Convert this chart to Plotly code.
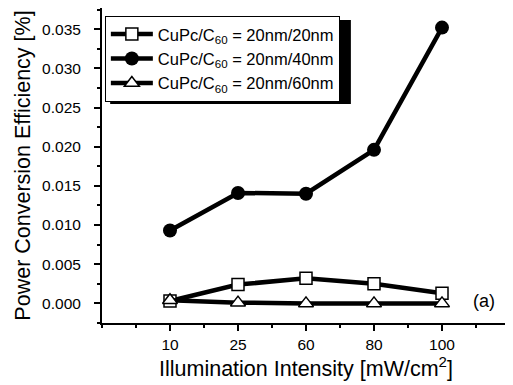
import plotly.graph_objects as go

x_pos = [1, 2, 3, 4, 5]
x_labels = ["10", "25", "60", "80", "100"]
s20 = [0.0003, 0.0024, 0.0032, 0.0025, 0.0013]
s40 = [0.0093, 0.0141, 0.0140, 0.0196, 0.0352]
s60 = [0.0004, 0.0001, 0.0000, 0.0000, 0.0000]
names = ["CuPc/C<sub>60</sub> = 20nm/20nm",
         "CuPc/C<sub>60</sub> = 20nm/40nm",
         "CuPc/C<sub>60</sub> = 20nm/60nm"]

FONT = "Arial, Liberation Sans, Helvetica, sans-serif"
fig = go.Figure()
fig.add_trace(go.Scatter(x=x_pos, y=s40, name=names[1], mode="lines+markers",
                         legendrank=2, legendgroup="b",
                         line=dict(color="black", width=4.5),
                         marker=dict(symbol="circle", size=14, color="black")))
fig.add_trace(go.Scatter(x=x_pos, y=s20, name=names[0], mode="lines+markers",
                         legendrank=1, legendgroup="a",
                         line=dict(color="black", width=4.5),
                         marker=dict(symbol="square", size=12, color="white",
                                     line=dict(color="black", width=1.5))))
fig.add_trace(go.Scatter(x=x_pos, y=s60, name=names[2], mode="lines+markers",
                         legendrank=3, legendgroup="c",
                         line=dict(color="black", width=4.5),
                         marker=dict(symbol="triangle-up", size=13, color="white",
                                     line=dict(color="black", width=1.5))))

# page has an 8px body margin: figure is 505x377 placed at (8,8)
fig.update_layout(
    width=505, height=377,
    margin=dict(l=94, r=3, t=0, b=62),
    paper_bgcolor="white", plot_bgcolor="white",
    font=dict(family=FONT, color="black", size=15.5),
    legend=dict(x=0.007, y=0.975, xanchor="left", yanchor="top",
                bgcolor="white", bordercolor="black", borderwidth=1,
                font=dict(size=16.5), traceorder="grouped",
                itemwidth=42, tracegroupgap=0),
    showlegend=True,
)
fig.update_xaxes(range=[0, 6], tickvals=x_pos, ticktext=x_labels, automargin=False,
                 showline=True, linecolor="black", linewidth=2, mirror="allticks",
                 ticks="outside", ticklen=6, tickwidth=2, tickcolor="black",
                 minor=dict(dtick=0.5, tick0=0, ticks="outside", ticklen=3,
                            tickwidth=2, tickcolor="black"),
                 showgrid=False, zeroline=False,
                 title=dict(text="Illumination Intensity [mW/cm<sup>2</sup>]",
                            font=dict(size=21.5), standoff=6))
fig.update_yaxes(range=[-0.0025, 0.0377], dtick=0.005, tick0=0, tickformat=".3f",
                 automargin=False, ticklabelstandoff=10,
                 showline=True, linecolor="black", linewidth=2, mirror="allticks",
                 ticks="outside", ticklen=6, tickwidth=2, tickcolor="black",
                 minor=dict(dtick=0.0025, tick0=0, ticks="outside", ticklen=3,
                            tickwidth=2, tickcolor="black"),
                 showgrid=False, zeroline=False,
                 title=dict(text="Power Conversion Efficiency [%]",
                            font=dict(size=21.5), standoff=6))
fig.add_annotation(x=5.62, y=0.0003, xref="x", yref="y", text="(a)",
                   showarrow=False, font=dict(size=18))
# legend shadow
fig.add_shape(type="rect", xref="paper", yref="paper",
              x0=0.02, x1=0.61, y0=0.695, y1=0.962,
              fillcolor="black", line=dict(width=0), layer="above")

fig.write_html("out.html")
